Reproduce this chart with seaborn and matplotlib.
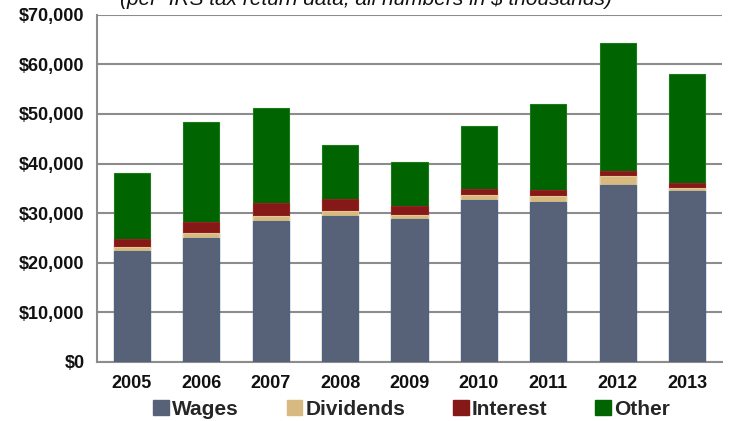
import matplotlib
matplotlib.use("Agg")
import matplotlib.pyplot as plt
import matplotlib.patches as mpatches
from matplotlib.ticker import FuncFormatter, FixedLocator
import seaborn as sns
import pandas as pd
import numpy as np

years = ["2005", "2006", "2007", "2008", "2009", "2010", "2011", "2012", "2013"]
wages = [22.3, 24.9, 28.4, 29.4, 28.8, 32.7, 32.2, 35.7, 34.5]
dividends = [0.8, 1.0, 1.1, 1.1, 0.9, 0.9, 1.3, 1.7, 0.6]
interest = [1.6, 2.3, 2.5, 2.3, 1.8, 1.2, 1.1, 1.0, 0.9]
other = [13.4, 20.2, 19.2, 11.0, 8.9, 12.7, 17.4, 25.9, 22.1]
series_names = ["Wages", "Dividends", "Interest", "Other"]
colors = ["#576178", "#D8B97F", "#861818", "#006400"]
edgecolors = ["#4C6485", "#E3C995", "#952525", "#1C7A1C"]
y_ticks = [0, 10000, 20000, 30000, 40000, 50000, 60000, 70000]
title_text = "(per  IRS tax return data, all numbers in $ thousands)"

sns.set_theme(style="white")
plt.rcParams["font.family"] = ["Liberation Sans", "DejaVu Sans"]

df = pd.DataFrame({"year": years, "Wages": wages, "Dividends": dividends,
                   "Interest": interest, "Other": other})
for c in series_names:
    df[c] = df[c] * 1000
cum = df[series_names].cumsum(axis=1)

fig = plt.figure(figsize=(7.31, 4.21), dpi=100)
ax = fig.add_axes([97 / 731, 59 / 421, 625 / 731, 347.3 / 421])

# draw cumulative totals from top down so each layer covers the rest
for name, col, ec in reversed(list(zip(series_names, colors, edgecolors))):
    sns.barplot(x=df["year"], y=cum[name], color=col, saturation=1, width=0.52,
                edgecolor=ec, linewidth=0.8, ax=ax, order=years, zorder=3)

ax.set_xlim(-0.5, len(years) - 0.5)
ax.set_ylim(0, 70000)
ax.set_yticks(y_ticks)
ax.yaxis.set_major_formatter(FuncFormatter(lambda v, p: f"${v:,.0f}"))
ax.set_xlabel("")
ax.set_ylabel("")
ax.grid(axis="y", color="#8C8C8C", linewidth=1.5, zorder=0)
ax.set_axisbelow(True)

for s in ["top", "right"]:
    ax.spines[s].set_visible(False)
for s in ["left", "bottom"]:
    ax.spines[s].set_color("#8C8C8C")
    ax.spines[s].set_linewidth(1.5)

ax.tick_params(axis="y", which="major", length=5, width=1.2, color="#8C8C8C",
               labelsize=13, pad=4)
ax.tick_params(axis="x", which="major", length=0, labelsize=13, pad=9)
ax.xaxis.set_minor_locator(FixedLocator(np.arange(-0.5, len(years), 1.0)))
ax.tick_params(axis="x", which="minor", length=5, width=1.2, color="#8C8C8C",
               direction="out")
for lab in ax.get_xticklabels() + ax.get_yticklabels():
    lab.set_fontweight("bold")
    lab.set_color("#111111")

fig.text(0.501, 1 - 5 / 421, title_text, ha="center", va="baseline",
         fontsize=15, style="italic", color="#111111")

handles = [mpatches.Patch(facecolor=c, edgecolor=c, label=n)
           for n, c in zip(series_names, colors)]
leg = fig.legend(handles=handles, loc="center", bbox_to_anchor=(0.563, 0.027),
                 ncol=4, frameon=False, handlelength=0.75, handleheight=0.75,
                 handletextpad=0.15, columnspacing=2.3,
                 prop={"weight": "bold", "size": 15})

fig.savefig("out.png", dpi=100)
